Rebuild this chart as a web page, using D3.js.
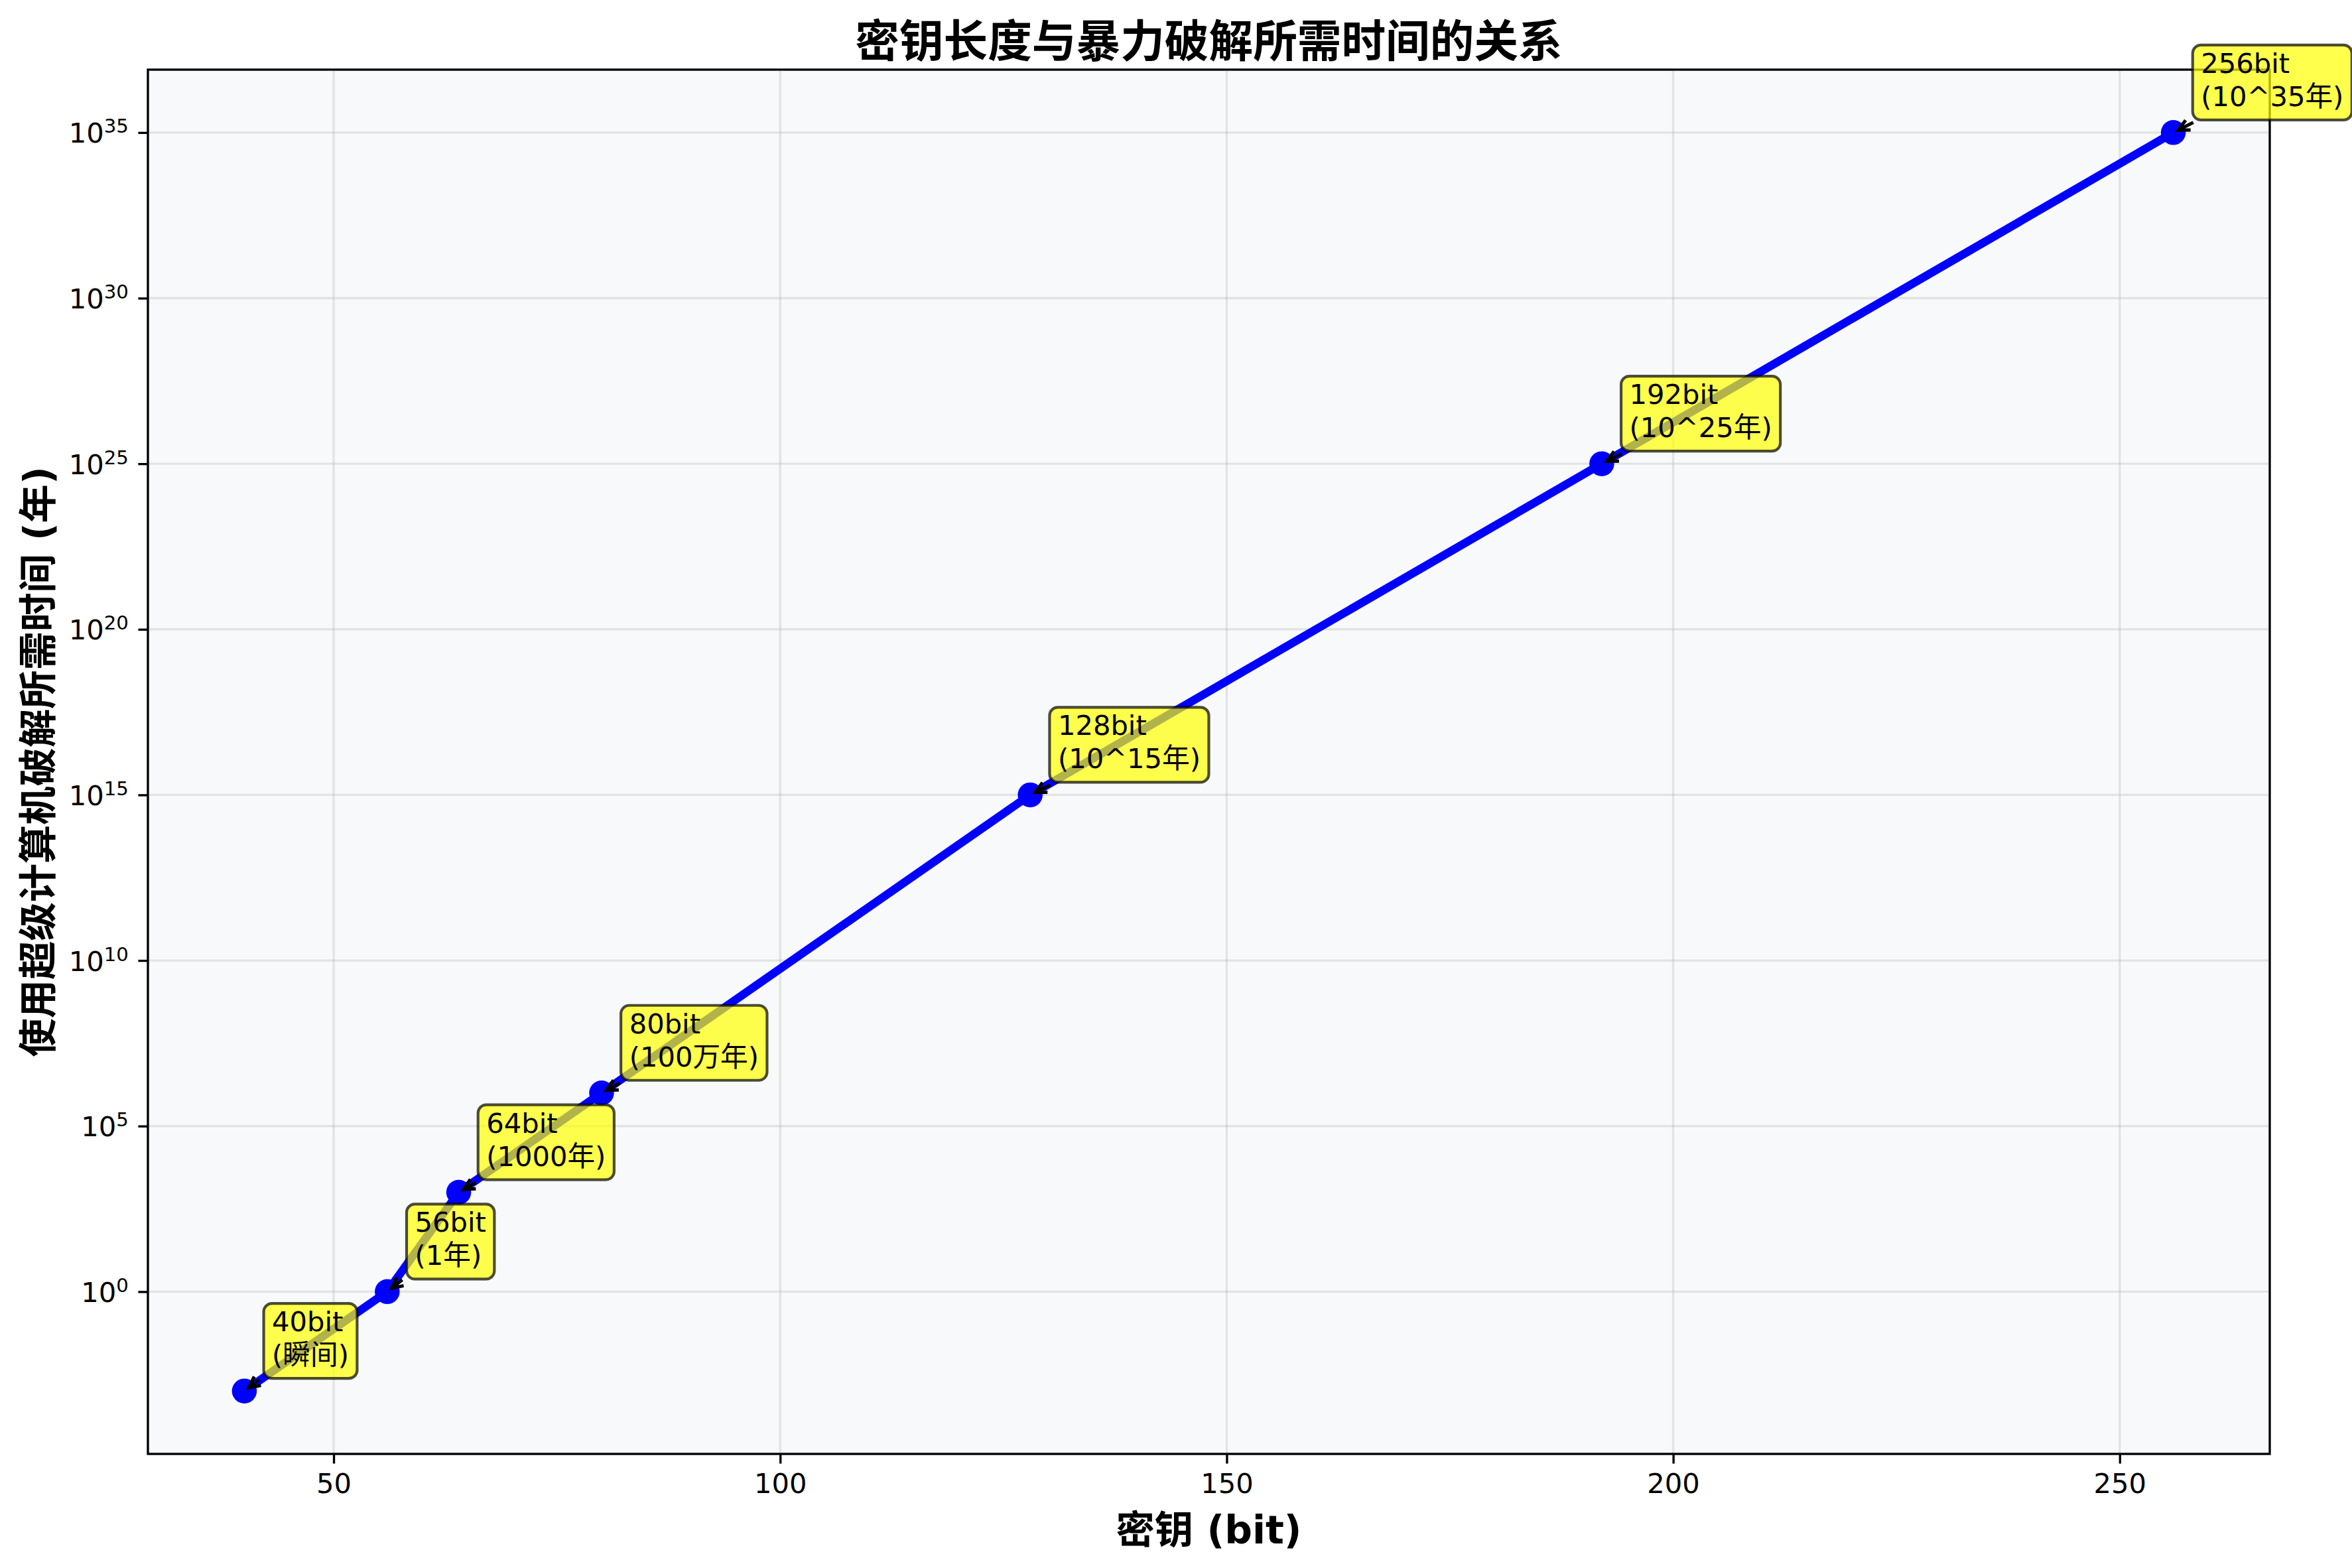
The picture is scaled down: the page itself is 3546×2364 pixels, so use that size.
<!DOCTYPE html>
<html>
<head>
<meta charset="utf-8">
<script src="https://cdn.jsdelivr.net/npm/d3@7"></script>
<style>
  html, body { margin: 0; padding: 0; background: #ffffff; }
  svg { display: block; }
</style>
</head>
<body>
<div id="chart"></div>
<script>
// ---- data ----
const keyBits = [40, 56, 64, 80, 128, 192, 256];
const crackYears = [1e-3, 1e0, 1e3, 1e6, 1e15, 1e25, 1e35];
const annotLabels = ["瞬间", "1年", "1000年", "100万年", "10^15年", "10^25年", "10^35年"];
const xTicks = [50, 100, 150, 200, 250];
const yTickExps = [0, 5, 10, 15, 20, 25, 30, 35];
const titleText = "密钥长度与暴力破解所需时间的关系";
const xLabelText = "密钥 (bit)";
const yLabelText = "使用超级计算机破解所需时间 (年)";

// ---- layout ----
const W = 3546, H = 2364;
const L = 223, R = 3422, T = 105, B = 2192;
const PT = 300 / 72; // px per point
const FONT = "'DejaVu Sans', 'Noto Sans CJK SC', sans-serif";

const svg = d3.select("#chart").append("svg")
  .attr("width", W).attr("height", H)
  .attr("viewBox", `0 0 ${W} ${H}`);

svg.append("rect").attr("x", 0).attr("y", 0).attr("width", W).attr("height", H).attr("fill", "#ffffff");

const xMin = 40 - 0.05 * 216, xMax = 256 + 0.05 * 216;
const x = d3.scaleLinear().domain([xMin, xMax]).range([L, R]);
const y = d3.scaleLog().domain([Math.pow(10, -3 - 0.05 * 38), Math.pow(10, 35 + 0.05 * 38)]).range([B, T]);

// plot background
svg.append("rect").attr("x", L).attr("y", T).attr("width", R - L).attr("height", B - T).attr("fill", "#f8f9fa");

// grid
const grid = svg.append("g");
grid.selectAll("line.vx").data(xTicks).enter().append("line")
  .attr("x1", d => x(d)).attr("x2", d => x(d)).attr("y1", T).attr("y2", B)
  .attr("stroke", "#b0b0b0").attr("stroke-opacity", 0.3).attr("stroke-width", 0.8 * PT);
grid.selectAll("line.hy").data(yTickExps).enter().append("line")
  .attr("y1", d => y(Math.pow(10, d))).attr("y2", d => y(Math.pow(10, d))).attr("x1", L).attr("x2", R)
  .attr("stroke", "#b0b0b0").attr("stroke-opacity", 0.3).attr("stroke-width", 0.8 * PT);

// axes via d3
const xAxis = d3.axisBottom(x).tickValues(xTicks).tickSize(3.5 * PT).tickPadding(3.5 * PT).tickFormat(d3.format("d"));
const gx = svg.append("g").attr("transform", `translate(0,${B})`).call(xAxis);
gx.select(".domain").remove();
gx.selectAll(".tick line").attr("stroke", "#000").attr("stroke-width", 0.8 * PT);
gx.selectAll(".tick text").attr("font-family", FONT).attr("font-size", 10 * PT).attr("fill", "#000");

const yAxis = d3.axisLeft(y).tickValues(yTickExps.map(e => Math.pow(10, e))).tickSize(3.5 * PT).tickPadding(3.5 * PT).tickFormat(() => "");
const gy = svg.append("g").attr("transform", `translate(${L},0)`).call(yAxis);
gy.select(".domain").remove();
gy.selectAll(".tick line").attr("stroke", "#000").attr("stroke-width", 0.8 * PT);
gy.selectAll(".tick text").each(function(d) {
  const e = Math.round(Math.log10(d));
  const t = d3.select(this).text(null)
    .attr("font-family", FONT).attr("font-size", 10 * PT).attr("fill", "#000")
    .attr("x", -(3.5 * PT + 3.5 * PT) + 0).attr("dy", null).attr("y", 15)
    .attr("text-anchor", "end");
  t.append("tspan").text("10");
  t.append("tspan").attr("font-size", 7 * PT).attr("dy", -15).text(String(e));
});

// spines
svg.append("rect").attr("x", L).attr("y", T).attr("width", R - L).attr("height", B - T)
  .attr("fill", "none").attr("stroke", "#000").attr("stroke-width", 0.8 * PT);

// data line + markers
const pts = keyBits.map((b, i) => ({ b, v: crackYears[i], label: annotLabels[i] }));
const line = d3.line().x(d => x(d.b)).y(d => y(d.v));
svg.append("path").datum(pts).attr("d", line)
  .attr("fill", "none").attr("stroke", "#0000ff").attr("stroke-width", 3 * PT)
  .attr("stroke-linejoin", "round");
svg.selectAll("circle.m").data(pts).enter().append("circle")
  .attr("cx", d => x(d.b)).attr("cy", d => y(d.v)).attr("r", 4 * PT + 0.5 * PT)
  .attr("fill", "#0000ff");

// annotations
const fs = 10 * PT;
const pad = 0.3 * fs;
pts.forEach(d => {
  const px = x(d.b), py = y(d.v);
  const g = svg.append("g");
  const arrowG = g.append("g");
  const rect = g.append("rect");
  const tx = px + 10 * PT;
  const base2 = py - 40, base1 = base2 - 1.2 * fs;
  const txt = g.append("text").attr("font-family", FONT).attr("font-size", fs).attr("fill", "#000");
  const l1 = txt.append("tspan").attr("x", tx).attr("y", base1).text(`${d.b}bit`);
  const l2 = txt.append("tspan").attr("x", tx).attr("y", base2).text(`(${d.label})`);
  const w = Math.max(l1.node().getComputedTextLength(), l2.node().getComputedTextLength());
  const bx0 = tx - pad, bx1 = tx + w + pad;
  const by0 = py - 132, by1 = py - 19;
  rect.attr("x", bx0).attr("y", by0).attr("width", bx1 - bx0).attr("height", by1 - by0)
    .attr("rx", pad).attr("ry", pad)
    .attr("fill", "#ffff00").attr("fill-opacity", 0.7)
    .attr("stroke", "#000").attr("stroke-opacity", 0.7).attr("stroke-width", 1 * PT);
  // arrow from box center toward point, clipped at box edge
  const cx = (bx0 + bx1) / 2, cy = (by0 + by1) / 2;
  let dx = px - cx, dy = py - cy;
  const len = Math.hypot(dx, dy); dx /= len; dy /= len;
  const tX = dx < 0 ? (bx0 - cx) / dx : (bx1 - cx) / dx;
  const tY = dy > 0 ? (by1 - cy) / dy : (by0 - cy) / dy;
  const tEdge = Math.min(tX, tY) + 2 * PT;
  const sx = cx + dx * tEdge, sy = cy + dy * tEdge;
  const ex = px - dx * 2 * PT, ey = py - dy * 2 * PT;
  const hl = 0.4 * fs, hw = 0.2 * fs;
  const bxh = ex - dx * hl, byh = ey - dy * hl;
  const nx = -dy, ny = dx;
  arrowG.append("path")
    .attr("d", `M${sx},${sy}L${ex},${ey}M${bxh + nx * hw},${byh + ny * hw}L${ex},${ey}L${bxh - nx * hw},${byh - ny * hw}`)
    .attr("fill", "none").attr("stroke", "#000").attr("stroke-width", 1.2 * PT)
    .attr("stroke-linejoin", "miter");
});

// title and labels
svg.append("text").attr("x", (L + R) / 2).attr("y", 86).attr("text-anchor", "middle")
  .attr("font-family", FONT).attr("font-size", 16 * PT).attr("font-weight", "bold").attr("fill", "#000")
  .text(titleText);
svg.append("text").attr("x", (L + R) / 2).attr("y", 2327).attr("text-anchor", "middle")
  .attr("font-family", FONT).attr("font-size", 14 * PT).attr("font-weight", "bold").attr("fill", "#000")
  .text(xLabelText);
svg.append("text").attr("transform", `translate(58,${(T + B) / 2}) rotate(-90)`).attr("dy", "0.35em")
  .attr("text-anchor", "middle")
  .attr("font-family", FONT).attr("font-size", 14 * PT).attr("font-weight", "bold").attr("fill", "#000")
  .text(yLabelText);
</script>
</body>
</html>
